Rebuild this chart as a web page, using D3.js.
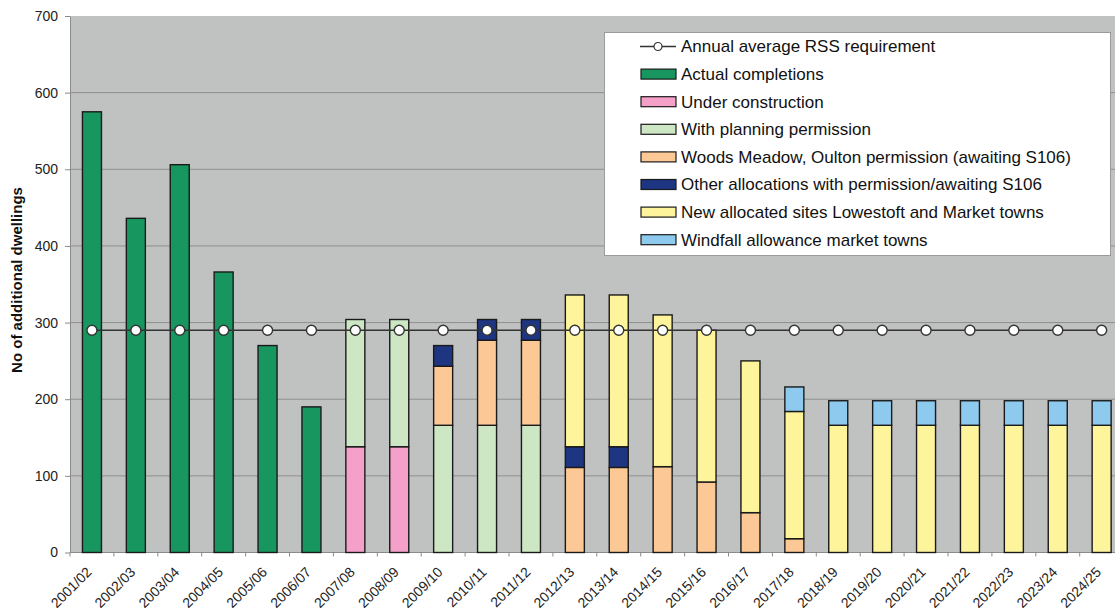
<!DOCTYPE html>
<html>
<head>
<meta charset="utf-8">
<script src="https://cdn.jsdelivr.net/npm/d3@7"></script>
<style>
  html, body { margin: 0; padding: 0; background: #ffffff; }
  svg { display: block; font-family: "Liberation Sans", Arial, sans-serif; }
</style>
</head>
<body>
<svg id="chart" width="1115" height="610"></svg>
<script>
// Housing supply trajectory: dwellings per year by source
const categories = ["2001/02","2002/03","2003/04","2004/05","2005/06","2006/07","2007/08","2008/09",
  "2009/10","2010/11","2011/12","2012/13","2013/14","2014/15","2015/16","2016/17","2017/18",
  "2018/19","2019/20","2020/21","2021/22","2022/23","2023/24","2024/25"];

const actualCompletions   = [575,436,506,366,270,190,0,0,0,0,0,0,0,0,0,0,0,0,0,0,0,0,0,0];
const underConstruction   = [0,0,0,0,0,0,138,138,0,0,0,0,0,0,0,0,0,0,0,0,0,0,0,0];
const withPermission      = [0,0,0,0,0,0,166,166,166,166,166,0,0,0,0,0,0,0,0,0,0,0,0,0];
const woodsMeadow         = [0,0,0,0,0,0,0,0,77,111,111,111,111,112,92,52,18,0,0,0,0,0,0,0];
const otherAllocations    = [0,0,0,0,0,0,0,0,27,27,27,27,27,0,0,0,0,0,0,0,0,0,0,0];
const newAllocatedSites   = [0,0,0,0,0,0,0,0,0,0,0,198,198,198,198,198,166,166,166,166,166,166,166,166];
const windfallAllowance   = [0,0,0,0,0,0,0,0,0,0,0,0,0,0,0,0,32,32,32,32,32,32,32,32];
const rssRequirement      = [290,290,290,290,290,290,290,290,290,290,290,290,290,290,290,290,290,290,290,290,290,290,290,290];

const yTicks = [0,100,200,300,400,500,600,700];

const seriesDefs = [
  { key: "completions", label: "Actual completions", values: actualCompletions, color: "#17975f" },
  { key: "construction", label: "Under construction", values: underConstruction, color: "#f4a0c9" },
  { key: "permission", label: "With planning permission", values: withPermission, color: "#cde7c4" },
  { key: "woods", label: "Woods Meadow, Oulton permission (awaiting S106)", values: woodsMeadow, color: "#fbc896" },
  { key: "other", label: "Other allocations with permission/awaiting S106", values: otherAllocations, color: "#1e3581" },
  { key: "newsites", label: "New allocated sites Lowestoft and Market towns", values: newAllocatedSites, color: "#fdf49b" },
  { key: "windfall", label: "Windfall allowance market towns", values: windfallAllowance, color: "#8ecaee" }
];
const lineLabel = "Annual average RSS requirement";

const rows = categories.map((c, i) => {
  const r = { cat: c };
  seriesDefs.forEach(s => { r[s.key] = s.values[i]; });
  return r;
});

const svg = d3.select("#chart");
const plotLeft = 70, plotTop = 16, plotBottom = 552.5;
const step = 43.9;
const plotRight = plotLeft + step * categories.length;

const x = d3.scaleBand()
  .domain(categories)
  .range([plotLeft, plotRight])
  .paddingInner(0.567)
  .paddingOuter(0.2835);

const y = d3.scaleLinear().domain([0, 700]).range([plotBottom, plotTop]);

// plot background
svg.append("rect")
  .attr("x", plotLeft).attr("y", y(700))
  .attr("width", plotRight - plotLeft).attr("height", y(0) - y(700))
  .attr("fill", "#c0c1c1");

// horizontal gridlines
svg.append("g").selectAll("line")
  .data(yTicks.filter(t => t > 0 && t < 700))
  .join("line")
  .attr("x1", plotLeft).attr("x2", plotRight)
  .attr("y1", d => y(d)).attr("y2", d => y(d))
  .attr("stroke", "#8e8f8f").attr("stroke-width", 1);

// y axis
const yAxis = svg.append("g")
  .attr("transform", `translate(${plotLeft},0)`)
  .call(d3.axisLeft(y).tickValues(yTicks).tickSize(5).tickPadding(7).tickSizeOuter(0));
yAxis.select(".domain").attr("stroke", "#8a8a8a");
yAxis.selectAll(".tick line").attr("stroke", "#8a8a8a");
yAxis.selectAll(".tick text")
  .attr("font-size", 14).attr("fill", "#222")
  .attr("font-family", "'Liberation Sans', Arial, sans-serif");

// x axis: ticks at category boundaries
const boundaries = categories.map((c, i) => plotLeft + i * step).concat([plotRight]);
svg.append("line")
  .attr("x1", plotLeft).attr("x2", plotRight)
  .attr("y1", plotBottom).attr("y2", plotBottom)
  .attr("stroke", "#8a8a8a");
svg.append("g").selectAll("line")
  .data(boundaries)
  .join("line")
  .attr("x1", d => d).attr("x2", d => d)
  .attr("y1", plotBottom).attr("y2", plotBottom + 4)
  .attr("stroke", "#8a8a8a");

// category labels, rotated
svg.append("g").selectAll("text")
  .data(categories)
  .join("text")
  .attr("transform", d => `translate(${x(d) + x.bandwidth() / 2 - 3},${plotBottom + 17}) rotate(-45)`)
  .attr("text-anchor", "end")
  .attr("dy", "0.35em")
  .attr("font-size", 14)
  .attr("fill", "#222")
  .text(d => d);

// y axis title
svg.append("text")
  .attr("transform", `translate(22,280) rotate(-90)`)
  .attr("text-anchor", "middle")
  .attr("font-size", 15)
  .attr("font-weight", "bold")
  .attr("fill", "#111")
  .text("No of additional dwellings");

// stacked bars
const stack = d3.stack().keys(seriesDefs.map(s => s.key));
const stacked = stack(rows);
const colorOf = Object.fromEntries(seriesDefs.map(s => [s.key, s.color]));

svg.append("g").selectAll("g")
  .data(stacked)
  .join("g")
  .attr("fill", d => colorOf[d.key])
  .selectAll("rect")
  .data(d => d.filter(p => p[1] - p[0] > 0))
  .join("rect")
  .attr("x", d => x(d.data.cat))
  .attr("width", x.bandwidth())
  .attr("y", d => y(d[1]))
  .attr("height", d => y(d[0]) - y(d[1]))
  .attr("stroke", "#1a1a1a")
  .attr("stroke-width", 1.4);

// requirement line with markers
const line = d3.line()
  .x((d, i) => x(categories[i]) + x.bandwidth() / 2)
  .y(d => y(d));
svg.append("path")
  .datum(rssRequirement)
  .attr("d", line)
  .attr("fill", "none")
  .attr("stroke", "#333")
  .attr("stroke-width", 1.6);
svg.append("g").selectAll("circle")
  .data(rssRequirement)
  .join("circle")
  .attr("cx", (d, i) => x(categories[i]) + x.bandwidth() / 2)
  .attr("cy", d => y(d))
  .attr("r", 5)
  .attr("fill", "#ffffff")
  .attr("stroke", "#333")
  .attr("stroke-width", 1.4);

// legend
const legend = svg.append("g");
legend.append("rect")
  .attr("x", 604.5).attr("y", 32.5)
  .attr("width", 506).attr("height", 223)
  .attr("fill", "#ffffff")
  .attr("stroke", "#9a9a9a");

const legendItems = [{ type: "line", label: lineLabel }]
  .concat(seriesDefs.map(s => ({ type: "rect", label: s.label, color: s.color })));
const rowY = i => 46.5 + i * 27.6;
const li = legend.selectAll("g.item")
  .data(legendItems)
  .join("g")
  .attr("class", "item")
  .attr("transform", (d, i) => `translate(0,${rowY(i)})`);

li.filter(d => d.type === "line").append("line")
  .attr("x1", 640).attr("x2", 676).attr("y1", 0).attr("y2", 0)
  .attr("stroke", "#333").attr("stroke-width", 1.4);
li.filter(d => d.type === "line").append("circle")
  .attr("cx", 658).attr("cy", 0).attr("r", 4)
  .attr("fill", "#fff").attr("stroke", "#333").attr("stroke-width", 1.2);
li.filter(d => d.type === "rect").append("rect")
  .attr("x", 641).attr("y", -5).attr("width", 35).attr("height", 10)
  .attr("fill", d => d.color).attr("stroke", "#1a1a1a").attr("stroke-width", 1.2);
li.append("text")
  .attr("x", 681).attr("y", 0).attr("dy", "0.35em")
  .attr("font-size", 17).attr("fill", "#111")
  .text(d => d.label);
</script>
</body>
</html>
